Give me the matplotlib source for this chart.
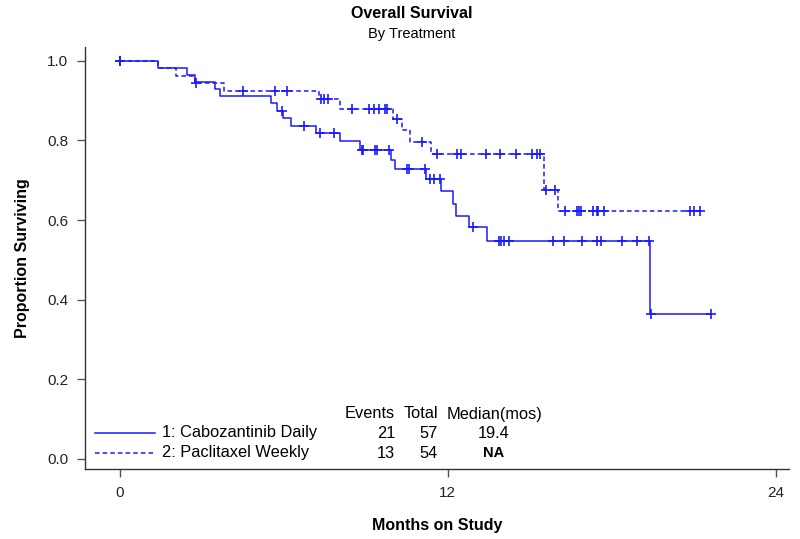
import numpy as np
import matplotlib
matplotlib.use('Agg')
import matplotlib.pyplot as plt

plt.rcParams['font.family'] = ['Liberation Sans', 'DejaVu Sans']

# Arm 1: Cabozantinib Daily (step times and survival after each step)
cabo_t = [0, 1.4, 2.47, 2.75, 3.48, 3.66, 5.52, 5.74, 5.96, 6.26, 7.18, 8.06,
          8.79, 9.91, 10.07, 11.21, 11.76, 12.2, 12.3, 12.76, 13.43, 19.41, 21.61]
cabo_s = [1.0, 0.982, 0.965, 0.947, 0.930, 0.912, 0.894, 0.875, 0.856, 0.837, 0.818, 0.799,
          0.777, 0.752, 0.729, 0.703, 0.672, 0.641, 0.611, 0.582, 0.547, 0.365, 0.365]
cabo_cens = [0, 5.92, 6.74, 7.33, 7.84, 8.85, 8.91, 9.32, 9.42, 9.83, 10.5, 10.59,
             11.17, 11.33, 11.51, 11.7, 12.91, 13.86, 13.95, 14.04, 14.22, 15.85,
             16.24, 16.91, 17.44, 17.6, 18.38, 18.93, 19.35, 19.42, 21.61]

# Arm 2: Paclitaxel Weekly
pacl_t = [0, 1.4, 2.05, 2.75, 3.81, 7.27, 8.06, 10.0, 10.33, 10.61, 11.38,
          15.53, 16.02, 21.25]
pacl_s = [1.0, 0.981, 0.963, 0.944, 0.924, 0.905, 0.879, 0.853, 0.826, 0.797, 0.767,
          0.676, 0.623, 0.623]
pacl_cens = [0, 2.8, 4.5, 5.69, 6.13, 7.35, 7.48, 7.6, 8.49, 9.13, 9.31, 9.49, 9.7,
             9.79, 10.13, 11.04, 11.6, 12.33, 12.48, 13.41, 13.9, 14.5, 15.08, 15.26,
             15.38, 15.6, 15.93, 16.3, 16.73, 16.79, 16.87, 17.31, 17.44, 17.48, 17.7,
             20.84, 21.0, 21.22]

arm_names = ['1: Cabozantinib Daily', '2: Paclitaxel Weekly']
events = ['21', '13']
totals = ['57', '54']
medians = ['19.4', 'NA']

blue = '#1a1aff'


def surv_at(t_steps, s_steps, times):
    idx = np.searchsorted(t_steps, times, side='right') - 1
    return np.array(s_steps)[idx]


fig = plt.figure(figsize=(8, 5.39), dpi=100)
ax = fig.add_axes([0.106, 0.130, 0.880, 0.783])

ax.step(cabo_t, cabo_s, where='post', color=blue, lw=1.1, linestyle='-')
ax.step(pacl_t, pacl_s, where='post', color=blue, lw=1.1, linestyle=(0, (3, 2)))
ax.plot(cabo_cens, surv_at(cabo_t, cabo_s, cabo_cens), '+', color=blue,
        ms=7, mew=1.2)
ax.plot(pacl_cens, surv_at(pacl_t, pacl_s, pacl_cens), '+', color=blue,
        ms=7, mew=1.2)

ax.set_xlim(-1.28, 24.47)
ax.set_ylim(-0.025, 1.035)
ax.set_xticks([0, 12, 24])
ax.set_yticks([0.0, 0.2, 0.4, 0.6, 0.8, 1.0])
ax.set_yticklabels(['0.0', '0.2', '0.4', '0.6', '0.8', '1.0'])
ax.spines['top'].set_visible(False)
ax.spines['right'].set_visible(False)
for sp in ['left', 'bottom']:
    ax.spines[sp].set_color('#333333')
    ax.spines[sp].set_linewidth(1.0)
ax.tick_params(direction='out', length=6, width=1.0, color='#555555',
               labelsize=11, labelcolor='#222222', pad=6)

ax.set_xlabel('Months on Study', fontsize=11.5, fontweight='semibold', labelpad=13)
ax.set_ylabel('Proportion Surviving', fontsize=11.5, fontweight='semibold', labelpad=12)

fig.text(412 / 800, 1 - 13 / 539, 'Overall Survival', ha='center', va='center',
         fontsize=11.5, fontweight='bold')
fig.text(412 / 800, 1 - 34 / 539, 'By Treatment', ha='center', va='center',
         fontsize=10.5)

# legend table
def fx(px):
    return px / 800


def fy(py):
    return 1 - py / 539


fs = 11.8
fig.text(fx(395), fy(414), 'Events', ha='right', va='center', fontsize=fs)
fig.text(fx(438), fy(414), 'Total', ha='right', va='center', fontsize=fs)
fig.text(fx(494), fy(414), 'Median(mos)', ha='center', va='center', fontsize=fs)

row_y = [433, 453]
styles = ['-', (0, (3, 2))]
for i in range(2):
    fig.add_artist(plt.Line2D([fx(95), fx(155)], [fy(row_y[i]), fy(row_y[i])],
                              color=blue, lw=1.1, linestyle=styles[i]))
    fig.text(fx(162), fy(row_y[i]), arm_names[i], ha='left', va='center', fontsize=fs)
    fig.text(fx(395), fy(row_y[i]), events[i], ha='right', va='center', fontsize=fs)
    fig.text(fx(438), fy(row_y[i]), totals[i], ha='right', va='center', fontsize=fs)
    fig.text(fx(494), fy(row_y[i]), medians[i], ha='center', va='center',
             fontsize=fs if medians[i] != 'NA' else 10.5,
             fontweight='normal' if medians[i] != 'NA' else 'bold')

fig.savefig('out.png', dpi=100)
